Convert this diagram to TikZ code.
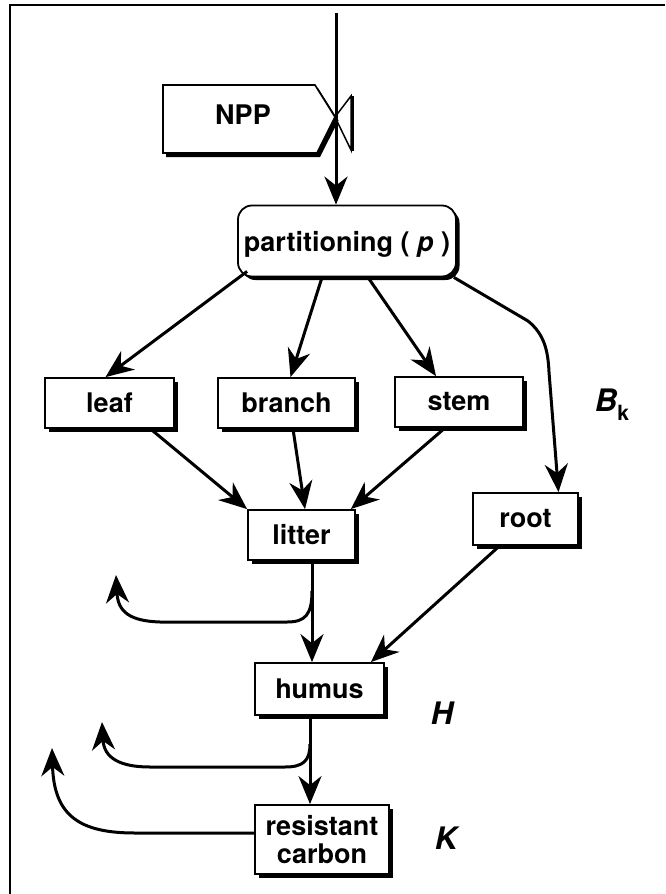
\documentclass[tikz,border=0pt]{standalone}
\usepackage{fontspec}
\setmainfont{TeX Gyre Heros}
\usetikzlibrary{arrows.meta,calc,shadows}
\begin{document}
\begin{tikzpicture}[x=1pt,y=-1pt,
  conn/.style={line width=3pt,-{Stealth[length=28pt,width=23pt,inset=9pt]}},
  shad/.style={general shadow={fill=black,shadow xshift=3.5pt,shadow yshift=-3.5pt}},
  boxn/.style={draw,line width=1.8pt,fill=white,inner sep=0pt,shad,
    font=\fontsize{27}{27.5}\selectfont\bfseries,align=center},
  biglabel/.style={font=\fontsize{31}{31}\selectfont\bfseries\itshape,inner sep=0pt}]
\useasboundingbox (0,0) rectangle (665,894);
% frame
\draw[line width=2pt] (9.5,894) -- (9.5,5) -- (665,5);
% NPP source with valve
\fill[black] (166,88) -- (318,88) -- (338.5,120.5) -- (320,157) -- (166,157) -- cycle;
\draw[line width=1.6pt,fill=white] (163,85) -- (315,85) -- (335,117) -- (317,153) -- (163,153) -- cycle;
\node[inner sep=0pt,font=\fontsize{27}{27}\selectfont\bfseries] (npp) at (243,115) {NPP};
\draw[line width=1.5pt] (335,117) -- (351,96) -- (351,150) -- cycle;
\draw[line width=3pt] (352,96) -- (352,151);
% boxes
\node[boxn,rounded corners=14pt,minimum width=218pt,minimum height=71pt,text depth=0pt] (part) at (347,241) {partitioning ( \textit{p} )};
\node[boxn,minimum width=129pt,minimum height=50pt] (leaf) at (109.5,403) {leaf};
\node[boxn,minimum width=137pt,minimum height=50pt] (branch) at (286.5,403) {branch};
\node[boxn,minimum width=128pt,minimum height=50pt] (stem) at (459,402) {stem};
\node[boxn,minimum width=107pt,minimum height=50pt] (litter) at (301.5,535) {litter};
\node[boxn,minimum width=105pt,minimum height=52pt] (root) at (525.5,519) {root};
\node[boxn,minimum width=129pt,minimum height=52pt] (humus) at (319.5,689) {humus};
\node[boxn,minimum width=134pt,minimum height=69pt] (resist) at (322,839.5) {resistant\\carbon};
% labels
\node[biglabel] (bk) at (612,405) {B\raisebox{-9pt}{\fontsize{21}{21}\selectfont\upshape k}};
\node[biglabel] (hl) at (442,713) {H};
\node[biglabel] (kl) at (446,838) {K};
% connectors
\coordinate (top) at (336,13);
\draw[conn] (top) -- (top |- part.north);
\draw[conn] ($(part.south west)+(10,-6)$) -- ($(leaf.north)+(-4,0)$);
\draw[conn] ($(part.south)+(-25,0)$) -- ($(branch.north)+(4,0)$);
\draw[conn] ($(part.south)+(21,0)$) -- ($(stem.north)+(-23,0)$);
\coordinate (rk) at (528,321);
\draw[conn] ($(part.south east)+(-3,0)$) -- (rk) .. controls (544,334) and (548,350) .. (549,372) -- ($(root.north)+(33,0)$);
\draw[conn] ($(leaf.south)+(41,0)$) -- (litter.north west);
\draw[conn] ($(branch.south)+(6.5,0)$) -- ($(litter.north)+(3.5,0)$);
\draw[conn] ($(stem.south)+(-14,0)$) -- ($(litter.north east)+(-5,0)$);
\coordinate (lt) at ($(litter.south)+(10.5,0)$);
\draw[conn] (lt) -- (lt |- humus.north);
\coordinate (lb) at ($(litter.south)+(10.5,30)$);
\coordinate (lbe) at (116,575);
\draw[conn] (lb) .. controls (312,615) and (305,622) .. (287,622) -- (160,622) .. controls (130,621) and (118,612) .. (lbe);
\draw[conn] ($(root.south)+(-26,0)$) -- ($(humus.north east)+(-14,0)$);
\coordinate (ht) at ($(humus.south)+(-9.5,0)$);
\draw[conn] (ht) -- (ht |- resist.north);
\coordinate (hb) at ($(humus.south)+(-9.5,28)$);
\coordinate (hbe) at (102,722);
\draw[conn] (hb) .. controls (310,761) and (303,767) .. (285,767) -- (150,767) .. controls (120,767) and (104,758) .. (hbe);
\coordinate (rbe) at (52,748);
\draw[conn] ($(resist.west)+(0,-6.5)$) -- (135,833) .. controls (80,833) and (54,816) .. (rbe);
\end{tikzpicture}
\end{document}
